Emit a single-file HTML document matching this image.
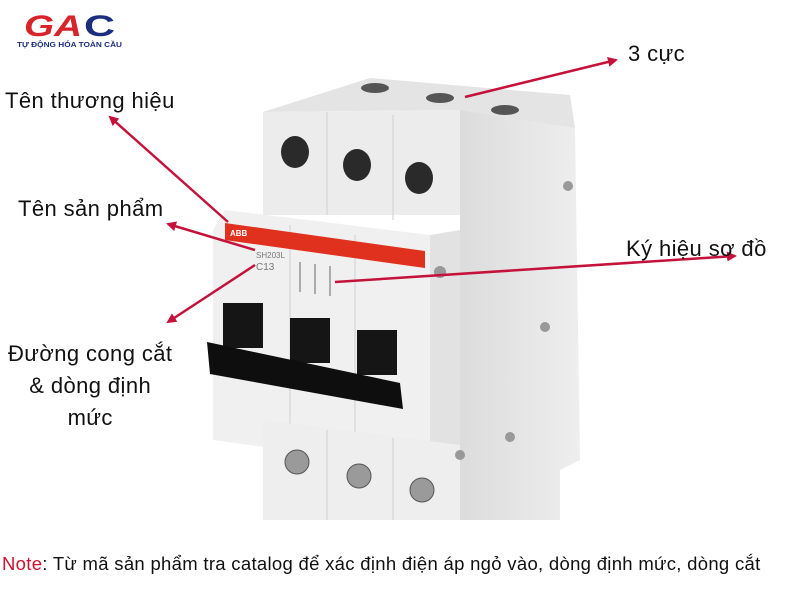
<!DOCTYPE html>
<html><head><meta charset="utf-8"><style>
html,body{margin:0;padding:0;background:#fff;}
body{width:800px;height:600px;position:relative;overflow:hidden;font-family:"Liberation Sans",sans-serif;}
.t{position:absolute;font-size:22px;color:#111;white-space:nowrap;letter-spacing:0.4px;}
</style></head><body>
<svg width="800" height="600" style="position:absolute;left:0;top:0">
<defs>
<marker id="a" markerWidth="10" markerHeight="10" refX="8" refY="5" orient="auto" markerUnits="userSpaceOnUse"><path d="M0,0 L10,5 L0,10 z" fill="#c4123a"/></marker>
<linearGradient id="side" x1="0" x2="1"><stop offset="0" stop-color="#dcdcdc"/><stop offset="1" stop-color="#eeeeee"/></linearGradient>
</defs>
<!-- logo -->
<text x="24" y="36" font-family="Liberation Sans" font-weight="bold" font-size="30" fill="#d7232a" font-style="italic" textLength="58" lengthAdjust="spacingAndGlyphs">GA</text>
<text x="84" y="36" font-family="Liberation Sans" font-weight="bold" font-size="30" fill="#1b2f7e" textLength="31" lengthAdjust="spacingAndGlyphs">C</text>
<text x="17" y="47" font-family="Liberation Sans" font-weight="bold" font-size="7.5" fill="#1b2f7e" textLength="105" lengthAdjust="spacingAndGlyphs">TỰ ĐỘNG HÓA TOÀN CẦU</text>
<!-- breaker right side -->
<polygon points="460,100 575,128 580,460 560,470 560,520 460,520" fill="url(#side)"/>
<!-- top face -->
<polygon points="263,112 370,78 570,95 575,128 460,110" fill="#e4e4e4"/>
<polygon points="263,112 460,110 460,215 263,215" fill="#ececec"/>
<line x1="327" y1="112" x2="327" y2="215" stroke="#cfcfcf"/>
<line x1="393" y1="115" x2="393" y2="220" stroke="#cfcfcf"/>
<ellipse cx="295" cy="152" rx="14" ry="16" fill="#2a2a2a"/>
<ellipse cx="357" cy="165" rx="14" ry="16" fill="#2a2a2a"/>
<ellipse cx="419" cy="178" rx="14" ry="16" fill="#2a2a2a"/>
<ellipse cx="375" cy="88" rx="14" ry="5" fill="#555"/>
<ellipse cx="440" cy="98" rx="14" ry="5" fill="#555"/>
<ellipse cx="505" cy="110" rx="14" ry="5" fill="#555"/>
<!-- middle body -->
<polygon points="225,210 430,235 430,470 213,440 213,230" fill="#f0f0f0"/>
<line x1="290" y1="225" x2="290" y2="440" stroke="#d0d0d0"/>
<line x1="355" y1="235" x2="355" y2="455" stroke="#d0d0d0"/>
<polygon points="430,235 460,230 460,470 430,470" fill="#e2e2e2"/>
<polygon points="225,223 425,251 425,268 225,240" fill="#e0301e"/>
<text x="230" y="236" font-size="8" font-weight="bold" fill="#fff" font-family="Liberation Sans">ABB</text>
<text x="256" y="258" font-size="8" fill="#777" font-family="Liberation Sans">SH203L</text>
<text x="256" y="270" font-size="10" fill="#777" font-family="Liberation Sans">C13</text>
<path d="M300,262 v30 M315,264 v30 M330,266 v30" stroke="#666" stroke-width="1"/>
<rect x="223" y="303" width="40" height="45" fill="#151515"/>
<rect x="290" y="318" width="40" height="45" fill="#151515"/>
<rect x="357" y="330" width="40" height="45" fill="#151515"/>
<polygon points="207,342 400,383 403,409 210,374" fill="#0e0e0e"/>
<!-- lower body -->
<polygon points="263,420 460,445 460,520 263,520" fill="#eeeeee"/>
<line x1="327" y1="430" x2="327" y2="520" stroke="#d0d0d0"/>
<line x1="393" y1="438" x2="393" y2="520" stroke="#d0d0d0"/>
<circle cx="297" cy="462" r="12" fill="#9a9a9a" stroke="#555"/>
<circle cx="359" cy="476" r="12" fill="#9a9a9a" stroke="#555"/>
<circle cx="422" cy="490" r="12" fill="#9a9a9a" stroke="#555"/>
<circle cx="440" cy="272" r="6" fill="#999"/>
<circle cx="545" cy="327" r="5" fill="#999"/>
<circle cx="510" cy="437" r="5" fill="#999"/>
<circle cx="460" cy="455" r="5" fill="#999"/>
<circle cx="568" cy="186" r="5" fill="#999"/>
<g stroke="#c4123a" stroke-width="2.5" fill="none" marker-end="url(#a)">
<line x1="465" y1="97" x2="616" y2="60"/>
<line x1="228" y1="222" x2="110" y2="117"/>
<line x1="255" y1="250" x2="168" y2="224"/>
<line x1="255" y1="265" x2="168" y2="322"/>
<line x1="335" y1="282" x2="735" y2="256"/>
</g>
</svg>
<div class="t" style="left:628px;top:41px">3 cực</div>
<div class="t" style="left:5px;top:88px">Tên thương hiệu</div>
<div class="t" style="left:18px;top:196px">Tên sản phẩm</div>
<div class="t" style="left:626px;top:236px">Ký hiệu sơ đồ</div>
<div class="t" style="left:8px;top:338px;line-height:32px;text-align:center">Đường cong cắt<br>&amp; dòng định<br>mức</div>
<div class="t" style="left:2px;top:553px;font-size:18.5px;letter-spacing:0.3px"><span style="color:#d0102e">Note</span>: Từ mã sản phẩm tra catalog để xác định điện áp ngỏ vào, dòng định mức, dòng cắt</div>
</body></html>
